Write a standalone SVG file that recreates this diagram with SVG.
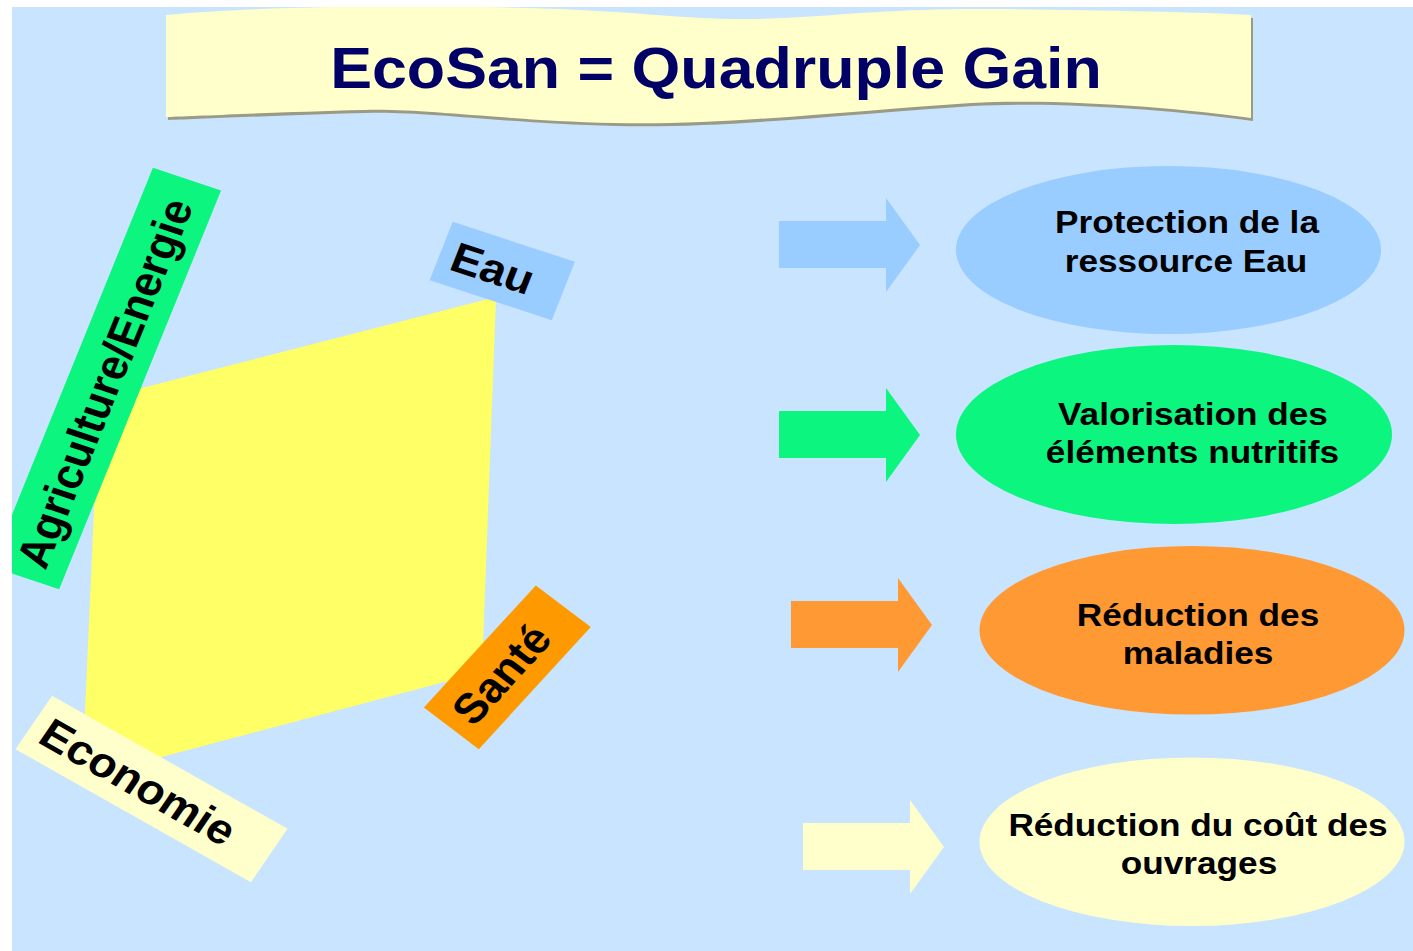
<svg xmlns="http://www.w3.org/2000/svg" width="1413" height="951" viewBox="0 0 1413 951">
<style>
.lbl{font-family:"Liberation Sans",Arial,Helvetica,sans-serif;font-weight:bold;font-size:42px;fill:#000;text-anchor:middle}
.ell{font-family:"Liberation Sans",Arial,Helvetica,sans-serif;font-weight:bold;font-size:32px;fill:#000;text-anchor:middle}
.title{font-family:"Liberation Sans",Arial,Helvetica,sans-serif;font-weight:bold;font-size:57px;fill:#000066;text-anchor:middle}
</style>
<defs>
<clipPath id="page"><rect x="12" y="7" width="1401" height="944"/></clipPath>
</defs>
<rect x="0" y="0" width="1413" height="951" fill="#ffffff"/>
<g clip-path="url(#page)">
<rect x="12" y="7" width="1401" height="944" fill="#C8E4FE"/>
<g id="banner">
<path transform="translate(2,3)" fill="#9A9A86" d="M166,15 C260,6 420,4 560,9 C660,13 700,22 780,18 C860,14 900,8 1000,9 C1100,10 1200,12 1251,15 L1251,118 C1180,108 1060,98 971,103 C860,110 720,126 614,123 C500,120 420,108 364,110 C280,112 200,116 166,117 Z"/>
<path fill="#FFFFCC" d="M166,15 C260,6 420,4 560,9 C660,13 700,22 780,18 C860,14 900,8 1000,9 C1100,10 1200,12 1251,15 L1251,118 C1180,108 1060,98 971,103 C860,110 720,126 614,123 C500,120 420,108 364,110 C280,112 200,116 166,117 Z"/>
<text class="title" transform="translate(716,88) scale(1.1,1)">EcoSan = Quadruple Gain</text>
</g>
<g id="shape">
<polygon points="99,399 496,297 482,672 82,778" fill="#FFFF66"/>
</g>
<g id="lbl-agri" transform="scale(1.1,1) translate(96.4,378.5) rotate(-69.74)">
<rect x="-212.5" y="-33" width="425" height="66" fill="#0CF57F"/>
<text class="lbl" x="-5" y="15">Agriculture/Energie</text>
</g>
<g id="lbl-eau" transform="scale(1.1,1) translate(456.6,271) rotate(19.8)">
<rect x="-59" y="-31" width="118" height="62" fill="#99CCFF"/>
<text class="lbl" x="-9" y="15">Eau</text>
</g>
<g id="lbl-sante" transform="scale(1.1,1) translate(461.2,667.3) rotate(-50.2)">
<rect x="-79.5" y="-32.5" width="159" height="65" fill="#FF9900"/>
<text class="lbl" x="-9" y="15">Santé</text>
</g>
<g id="lbl-eco" transform="scale(1.1,1) translate(137.75,789) rotate(31.85)">
<rect x="-126" y="-31.5" width="252" height="63" fill="#FFFFCC"/>
<text class="lbl" x="-14" y="15">Economie</text>
</g>
<g id="connectors">
<polygon points="779,221 886,221 886,198 920,245 886,292 886,268 779,268" fill="#99CCFF"/>
<polygon points="779,411 886,411 886,388 920,435 886,482 886,458 779,458" fill="#0CF57F"/>
<polygon points="791,601 898,601 898,578 932,625 898,672 898,648 791,648" fill="#FF9933"/>
<polygon points="803,823 910,823 910,800 944,847 910,894 910,870 803,870" fill="#FFFFCC"/>
</g>
<g id="gain-eau">
<ellipse cx="1168.5" cy="250" rx="212.5" ry="84" fill="#99CCFF"/>
<text class="ell" transform="translate(1187,233) scale(1.1,1)">Protection de la</text>
<text class="ell" transform="translate(1186,272) scale(1.1,1)">ressource Eau</text>
</g>
<g id="gain-nutri">
<ellipse cx="1174" cy="434.5" rx="218" ry="89.5" fill="#0CF57F"/>
<text class="ell" transform="translate(1193,425) scale(1.1,1)">Valorisation des</text>
<text class="ell" transform="translate(1192.5,463) scale(1.1,1)">éléments nutritifs</text>
</g>
<g id="gain-sante">
<ellipse cx="1192" cy="630.3" rx="212.5" ry="84.3" fill="#FF9933"/>
<text class="ell" transform="translate(1198,626) scale(1.1,1)">Réduction des</text>
<text class="ell" transform="translate(1198,664) scale(1.1,1)">maladies</text>
</g>
<g id="gain-cout">
<ellipse cx="1192" cy="841.7" rx="212.5" ry="84.3" fill="#FFFFCC"/>
<text class="ell" transform="translate(1198,836) scale(1.1,1)">Réduction du coût des</text>
<text class="ell" transform="translate(1199,874) scale(1.1,1)">ouvrages</text>
</g>
</g>
</svg>
